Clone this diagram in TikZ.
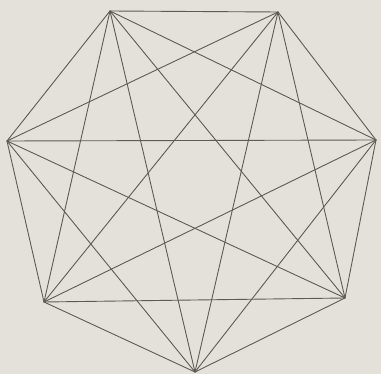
\documentclass[tikz,border=0pt]{standalone}
\usepackage{xcolor}
\usepackage{tikz}
\usetikzlibrary{calc}
\definecolor{paperbg}{HTML}{E4E1DA}
\definecolor{inkgray}{HTML}{5E5A55}
\tikzset{
  vertex/.style={inner sep=0pt, minimum size=0pt},
  chord/.style={draw=inkgray, line width=0.9pt, line cap=round}
}
\begin{document}
\begin{tikzpicture}[x=1pt, y=-1pt]
  \fill[paperbg] (0,0) rectangle (381,374);
  \useasboundingbox (0,0) rectangle (381,374);
  \coordinate (v1) at (110,11);
  \coordinate (v2) at (278,12);
  \coordinate (v3) at (376,140);
  \coordinate (v4) at (345,298);
  \coordinate (v5) at (195,372);
  \coordinate (v6) at (44,302);
  \coordinate (v7) at (7,141);
  \foreach \i in {1,...,6}{
    \pgfmathtruncatemacro{\nxt}{\i+1}
    \foreach \j in {\nxt,...,7}{
      \draw[chord] (v\i) -- (v\j);
    }
  }
\end{tikzpicture}
\end{document}
